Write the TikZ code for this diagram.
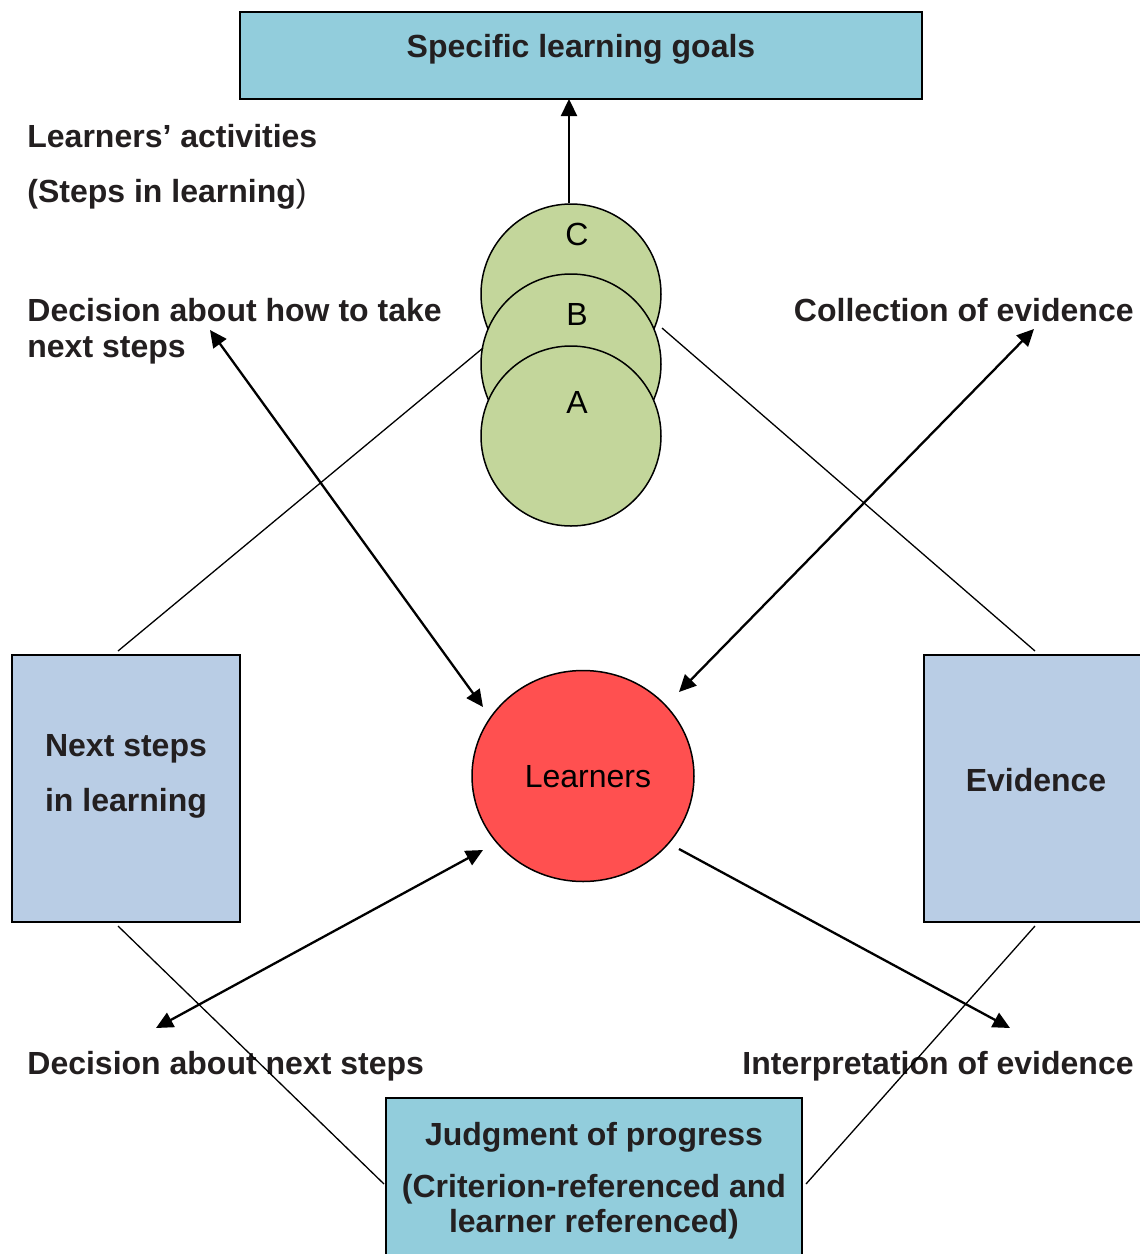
\documentclass[tikz,border=0pt]{standalone}
\usepackage{fontspec}
\setmainfont{Liberation Sans}
\usetikzlibrary{arrows.meta,shapes.geometric}
\definecolor{aqua}{HTML}{92CDDC}
\definecolor{steel}{HTML}{B9CDE5}
\definecolor{sage}{HTML}{C3D69B}
\definecolor{redc}{HTML}{FF5050}
\definecolor{ink}{HTML}{231F20}
\tikzset{
  boxA/.style={draw=black,line width=1pt,fill=aqua,inner sep=0pt,outer sep=0pt},
  boxB/.style={draw=black,line width=1pt,fill=steel,inner sep=0pt,outer sep=0pt},
  stepcirc/.style={circle,draw=black,line width=0.75pt,fill=sage,minimum size=90pt,inner sep=0pt,outer sep=0pt},
  lbl/.style={inner sep=0pt,text=ink,font=\fontsize{16}{19}\selectfont\bfseries},
  plain/.style={inner sep=0pt,text=black,font=\fontsize{16}{19}\selectfont},
  thinline/.style={line width=0.65pt,black},
  arr/.style={line width=1.15pt,black,-{Triangle[length=8.5pt,width=8pt]}},
  darr/.style={line width=1.15pt,black,{Triangle[length=8.5pt,width=8pt]}-{Triangle[length=8.5pt,width=8pt]}}
}
\begin{document}
\begin{tikzpicture}[x=0.5pt,y=-0.5pt]
\useasboundingbox (0,0) rectangle (1140,1254);
% boxes
\node[boxA,minimum width=341pt,minimum height=43.5pt] (goal) at (581,55.5) {};
\node[boxB,minimum width=114pt,minimum height=133.5pt] (next) at (126,788.5) {};
\node[boxB,minimum width=125pt,minimum height=133.5pt] (evid) at (1048.5,788.5) {};
\node[boxA,minimum width=208pt,minimum height=85pt] (judg) at (594,1183) {};
% step circles
\node[stepcirc] (C) at (571,294) {};
\node[stepcirc] (B) at (571,364) {};
\node[stepcirc] (A) at (571,436) {};
\node[plain,anchor=base] (Ct) at (577,245) {C};
\node[plain,anchor=base] (Bt) at (577,325) {B};
\node[plain,anchor=base] (At) at (577,413) {A};
% learners
\node[ellipse,draw=black,line width=0.75pt,fill=redc,minimum width=111pt,minimum height=105.5pt,inner sep=0pt,outer sep=0pt] (L) at (583,776) {};
\node[plain,anchor=base] (Lt) at (588,787) {Learners};
% texts
\node[lbl,anchor=base] (goalt) at (581,57) {Specific learning goals};
\node[lbl,anchor=base west] (act1) at (27,147) {Learners’ activities};
\node[lbl,anchor=base west] (act2) at (27,202) {(Steps in learning\textmd{)}};
\node[lbl,anchor=base west] (dec1) at (27,321) {Decision about how to take};
\node[lbl,anchor=base west] (dec2) at (27,357) {next steps};
\node[lbl,anchor=base east] (coll) at (1134,321) {Collection of evidence};
\node[lbl,anchor=base west] (decn) at (27,1074) {Decision about next steps};
\node[lbl,anchor=base east] (intp) at (1134,1074) {Interpretation of evidence};
\node[lbl,anchor=base] (nx1) at (126,756) {Next steps};
\node[lbl,anchor=base] (nx2) at (126,811) {in learning};
\node[lbl,anchor=base] (evt) at (1036,791) {Evidence};
\node[lbl,anchor=base] (j1) at (594,1145) {Judgment of progress};
\node[lbl,anchor=base] (j2) at (594,1197) {(Criterion-referenced and};
\node[lbl,anchor=base] (j3) at (594,1232) {learner referenced)};
% connector end points
\coordinate (cTop) at (569,203);
\coordinate (nTop) at (118,651);
\coordinate (nBot) at (118,926);
\coordinate (eTop) at (1035,651);
\coordinate (eBot) at (1035,926);
\coordinate (bL) at (483,348);
\coordinate (cR) at (662,328);
\coordinate (jL) at (384,1184);
\coordinate (jR) at (806,1184);
\coordinate (decTip) at (210,330);
\coordinate (collTip) at (1034,329);
\coordinate (decnTip) at (156,1028);
\coordinate (intpTip) at (1010,1028);
\coordinate (lUL) at (483,707);
\coordinate (lUR) at (679,692);
\coordinate (lLL) at (483,850);
\coordinate (lLR) at (679,849);
% thin lines
\draw[thinline] (nTop) -- (bL);
\draw[thinline] (cR) -- (eTop);
\draw[thinline] (nBot) -- (jL);
\draw[thinline] (eBot) -- (jR);
% arrows
\draw[arr] (cTop) -- (cTop |- goal.south);
\draw[darr] (decTip) -- (lUL);
\draw[darr] (collTip) -- (lUR);
\draw[darr] (decnTip) -- (lLL);
\draw[arr] (lLR) -- (intpTip);
\end{tikzpicture}
\end{document}
